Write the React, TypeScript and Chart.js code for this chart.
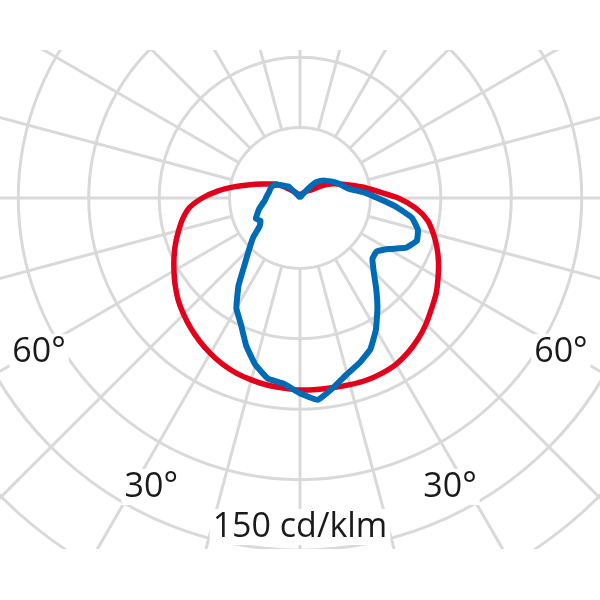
import React, { useEffect, useRef } from 'react';
import { Chart, registerables } from 'chart.js';

Chart.register(...registerables);

// Polar angle (deg) measured from nadir (0° = straight down), running over the left side to zenith (180°) and back down the right side
const angles = [
  0, 5, 10, 15, 20, 25, 30, 35, 40, 45, 50, 55, 60, 65, 70, 75, 80, 85,
  90, 95, 100, 105, 110, 115, 120, 125, 130, 135, 140, 145, 150, 155, 160, 165, 170, 175,
  180, 185, 190, 195, 200, 205, 210, 215, 220, 225, 230, 235, 240, 245, 250, 255, 260, 265,
  270, 275, 280, 285, 290, 295, 300, 305, 310, 315, 320, 325, 330, 335, 340, 345, 350, 355,
];

// C0-C180 plane, cd/klm (red)
const redPlane = [
  81.8, 81.3, 80.9, 80.2, 79.4, 78.1, 76.4, 74.5, 72.4, 70.1, 67.7, 64.9, 62.0, 59.2, 56.4, 53.5, 50.7, 47.3,
  41.6, 35.0, 28.0, 21.8, 17.3, 14.0, 11.9, 8.6, 5.8, 4.1, 3.2, 2.6, 2.2, 1.9, 1.7, 1.5, 1.4, 1.3,
  1.3, 1.4, 1.5, 1.7, 1.9, 2.1, 2.4, 2.8, 3.3, 4.2, 5.0, 6.2, 10.2, 14.1, 17.5, 21.5, 27.0, 33.0,
  41.8, 49.5, 55.2, 58.8, 62.1, 65.1, 67.9, 70.8, 73.2, 75.9, 78.3, 80.3, 81.8, 82.4, 82.6, 82.3, 82.0, 81.9,
];

// C90-C270 plane, cd/klm (blue)
const bluePlane = [
  83.2, 79.4, 78.2, 73.5, 67.0, 59.5, 54.2, 45.7, 36.5, 30.5, 26.0, 21.0, 19.4, 20.8, 19.3, 18.0, 16.5, 15.2,
  14.5, 14.0, 13.5, 13.3, 13.1, 12.6, 11.2, 9.5, 7.8, 7.0, 2.0, 0.8, 0.6, 0.6, 0.6, 0.6, 0.6, 0.6,
  0.6, 0.6, 0.6, 0.6, 0.6, 0.6, 0.6, 1.5, 4.4, 9.3, 11.3, 12.9, 14.4, 16.1, 17.7, 19.3, 21.6, 27.4,
  33.0, 40.8, 48.4, 52.0, 53.0, 50.0, 43.5, 39.8, 40.3, 44.4, 50.5, 57.5, 64.7, 71.0, 74.6, 77.6, 82.0, 86.3,
];

// grid
const ringStep = 30;
const ringMax = 210;
const spokeAngles = [0, 15, 30, 45, 60, 75, 90, 105, 120, 135, 150, 165, 180, 195, 210, 225, 240, 255, 270, 285, 300, 315, 330, 345];

// annotations (text, polar angle, radius in cd/klm)
const noteTexts = ['60°', '60°', '30°', '30°', '150 cd/klm'];
const noteAngles = [59.8, 300.2, 27.4, 332.4, 0];
const noteRadii = [128.6, 128.6, 137.7, 137.9, 139.3];

const GRID = '#d9d9d9';

export default function App() {
  const ref = useRef<HTMLCanvasElement | null>(null);

  useEffect(() => {
    const canvas = ref.current;
    if (!canvas) return;
    const degPerIndex = 360 / angles.length;

    const polarDecor = {
      id: 'polarDecor',
      beforeDatasetsDraw(chart: any) {
        const s = chart.scales.r;
        const ctx = chart.ctx;
        ctx.save();
        ctx.strokeStyle = GRID;
        ctx.lineWidth = 3;
        spokeAngles.forEach((a) => {
          const i = a / degPerIndex;
          const p0 = s.getPointPositionForValue(i, ringStep);
          const p1 = s.getPointPositionForValue(i, ringMax);
          ctx.beginPath();
          ctx.moveTo(p0.x, p0.y);
          ctx.lineTo(p1.x, p1.y);
          ctx.stroke();
        });
        ctx.restore();
      },
      afterDraw(chart: any) {
        const s = chart.scales.r;
        const ctx = chart.ctx;
        ctx.save();
        ctx.font = '34px "Open Sans", "Noto Sans", sans-serif';
        ctx.textAlign = 'center';
        ctx.textBaseline = 'alphabetic';
        noteTexts.forEach((t, k) => {
          const p = s.getPointPositionForValue(noteAngles[k] / degPerIndex, noteRadii[k]);
          const w = ctx.measureText(t).width;
          const base = p.y + 12;
          ctx.fillStyle = '#ffffff';
          ctx.fillRect(p.x - w / 2 - 3, base - 28, w + 6, 36);
          ctx.fillStyle = '#1a1a1a';
          ctx.fillText(t, p.x, base);
        });
        ctx.restore();
      },
    };

    const chart = new Chart(canvas, {
      type: 'radar',
      data: {
        labels: angles.map((a) => a + '°'),
        datasets: [
          {
            label: 'C0 - C180',
            data: redPlane,
            borderColor: '#e2001a',
            backgroundColor: 'transparent',
            borderWidth: 5.5,
            pointRadius: 0,
            fill: false,
            tension: 0.25,
            order: 2,
          },
          {
            label: 'C90 - C270',
            data: bluePlane,
            borderColor: '#006bb5',
            backgroundColor: 'transparent',
            borderWidth: 6,
            pointRadius: 0,
            fill: false,
            tension: 0.1,
            order: 1,
          },
        ],
      },
      options: {
        responsive: false,
        animation: false,
        devicePixelRatio: 1,
        layout: { padding: 0 },
        plugins: { legend: { display: false }, tooltip: { enabled: false } },
        elements: { line: { borderJoinStyle: 'round', borderCapStyle: 'round' } },
        scales: {
          r: {
            min: 0,
            max: ringMax,
            startAngle: 180,
            ticks: { display: false, stepSize: ringStep },
            grid: { circular: true, color: GRID, lineWidth: 3 },
            angleLines: { display: false },
            pointLabels: { display: false },
          },
        },
      } as any,
      plugins: [polarDecor],
    });
    return () => chart.destroy();
  }, []);

  return (
    <div style={{ position: 'absolute', left: 0, top: 0, width: 600, height: 600, background: '#fff', overflow: 'hidden' }}>
      <div style={{ position: 'absolute', left: 0, top: 50, width: 600, height: 499, overflow: 'hidden' }}>
        <canvas
          ref={ref}
          width={986}
          height={986}
          style={{ position: 'absolute', left: -193, top: -345, width: 986, height: 986 }}
        />
      </div>
    </div>
  );
}
